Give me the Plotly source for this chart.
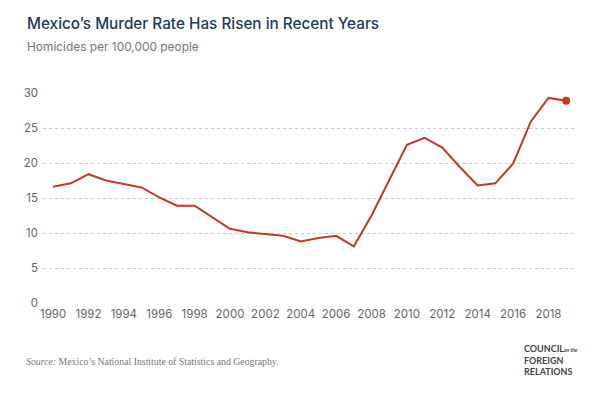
import plotly.graph_objects as go

years = list(range(1990, 2020))
rate = [16.6, 17.1, 18.4, 17.5, 17.0, 16.5, 15.1, 13.9, 13.9, 12.2,
        10.6, 10.1, 9.8, 9.6, 8.8, 9.3, 9.6, 8.1, 12.5, 17.6,
        22.6, 23.6, 22.2, 19.4, 16.8, 17.1, 19.9, 25.9, 29.3, 28.9]
x_ticks = list(range(1990, 2020, 2))
y_ticks = [0, 5, 10, 15, 20, 25, 30]

RED = "#c0392b"
# page body has an 8px default margin; size the figure so it ends at the window edge
OFF = 8
W, H = 600 - OFF, 395 - OFF
L, R = 43 - OFF, 25
T = 92.7 - OFF
B = H - (302.7 - OFF)
PW, PH = W - L - R, H - T - B

fig = go.Figure()
fig.add_trace(go.Scatter(
    x=years, y=rate, mode="lines",
    line=dict(color=RED, width=2), hoverinfo="skip", cliponaxis=False))
fig.add_trace(go.Scatter(
    x=[years[-1]], y=[rate[-1]], mode="markers",
    marker=dict(color=RED, size=8), hoverinfo="skip", cliponaxis=False))

def px(xp, yp):
    # screen pixel -> paper (plot-area) fraction
    xf = (xp - OFF - L) / PW
    yf = ((yp - OFF) - T)
    return xf, 1 - yf / PH

annotations = []
tx, ty = px(25, 23.5)
annotations.append(dict(text="Mexico\u2019s Murder Rate Has Risen in Recent Years",
                        x=tx, y=ty, xref="paper", yref="paper", xanchor="left", yanchor="middle",
                        showarrow=False, font=dict(family="Inter", size=15.3, color="#1d3a5c", weight=500)))
tx, ty = px(25, 46)
annotations.append(dict(text="Homicides per 100,000 people",
                        x=tx, y=ty, xref="paper", yref="paper", xanchor="left", yanchor="middle",
                        showarrow=False, font=dict(family="Inter", size=11.9, color="#777777")))
tx, ty = px(24, 361)
annotations.append(dict(text="<i>Source:</i> Mexico\u2019s National Institute of Statistics and Geography.",
                        x=tx, y=ty, xref="paper", yref="paper", xanchor="left", yanchor="middle",
                        showarrow=False, font=dict(family="Liberation Serif", size=9.8, color="#777777")))
tx, ty = px(522, 359.5)
annotations.append(dict(text="COUNCIL<span style='font-size:5px'><i>on the</i></span><br>FOREIGN<br>RELATIONS",
                        x=tx, y=ty, xref="paper", yref="paper", xanchor="left", yanchor="middle",
                        align="left", showarrow=False,
                        font=dict(family="Lato", size=9, color="#4a3f3f", weight=700)))

fig.update_layout(
    width=W, height=H,
    margin=dict(l=L, r=R, t=T, b=B, pad=0),
    paper_bgcolor="white", plot_bgcolor="white",
    showlegend=False,
    annotations=annotations,
    xaxis=dict(range=[1989.43, 2019.5], tickvals=x_ticks, ticktext=[str(v) for v in x_ticks],
               showgrid=False, zeroline=False, showline=False, ticks="",
               tickfont=dict(family="Inter", size=11.5, color="#666666"), ticklabelstandoff=2),
    yaxis=dict(range=[0, 30], tickvals=y_ticks, ticktext=[str(v) for v in y_ticks],
               showgrid=True, gridcolor="#c8c8c8", griddash="dot", gridwidth=1,
               zeroline=False, showline=False, ticks="",
               tickfont=dict(family="Inter", size=11.5, color="#666666"), ticklabelstandoff=4),
)

fig.write_html("out.html")
